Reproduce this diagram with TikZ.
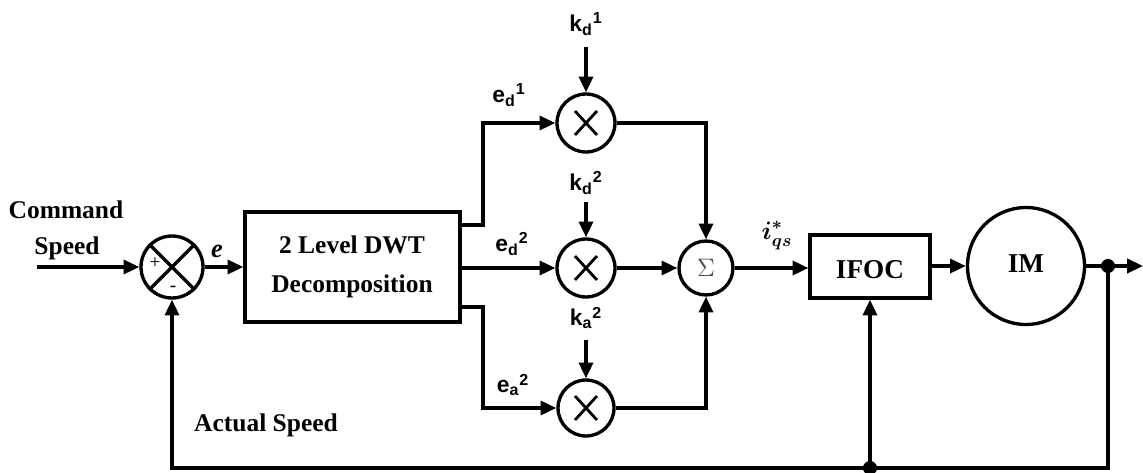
\documentclass[tikz,border=0pt]{standalone}
\usepackage{amsmath}
\usepackage{fontspec}
\setmainfont{Liberation Serif}
\newfontfamily\arialf{Liberation Sans}
\usetikzlibrary{arrows.meta,calc}
\begin{document}
\begin{tikzpicture}[x=0.02cm,y=-0.02cm,
  line width=1.9pt,
  arr/.style={-{Triangle[length=9pt,width=8pt]}},
  mult/.style={circle,draw,minimum size=1.16cm,inner sep=0pt},
  blk/.style={draw,inner sep=0pt},
  lbl/.style={font=\fontsize{14.5}{16}\selectfont\bfseries,inner sep=0pt},
  klbl/.style={font=\arialf\fontsize{13}{14}\selectfont\bfseries,inner sep=0pt},
  jdot/.style={circle,fill,inner sep=0pt,minimum size=8pt}]
\useasboundingbox (0,0) rectangle (1143,473);

% input and first summing junction
\coordinate (in) at (37,267);
\node[circle,draw,minimum size=1.24cm,inner sep=0pt] (s1) at (172,267) {};
\draw (s1.45) -- (s1.225) (s1.135) -- (s1.-45);
\node[font=\fontsize{11}{12}\selectfont,inner sep=0pt] (plus) at (155,263) {+};
\node[font=\fontsize{11}{12}\selectfont,inner sep=0pt] (minus) at (173,289) {-};
\node[lbl,anchor=base] (cmd) at (66,218) {Command};
\node[lbl,anchor=base] (spd) at (67,254) {Speed};
\draw[arr] (in) -- (s1);

% DWT block
\node[blk,minimum width=4.3cm,minimum height=2.2cm] (dwt) at (352.5,267) {};
\node[lbl,anchor=base] (dwt1) at (352,253) {2 Level DWT};
\node[lbl,anchor=base] (dwt2) at (352,292) {Decomposition};
\draw[arr] (s1) -- (dwt.west |- s1);
\node[font=\fontsize{15}{16}\selectfont\bfseries\itshape,anchor=base,inner sep=0pt] (e) at (217,257) {e};

% multipliers
\node[mult] (m1) at (586,123) {};
\node[mult] (m2) at (586,268) {};
\node[mult,minimum size=1.12cm] (m3) at (586,408) {};
\foreach \m in {m1,m2,m3}{
  \draw[line width=1.6pt] ($(\m.center)+(-11,-12)$) -- ($(\m.center)+(11,12)$)
        ($(\m.center)+(-11,12)$) -- ($(\m.center)+(11,-12)$);
}

% summation
\node[circle,draw,minimum size=1.08cm,inner sep=0pt,font=\fontsize{15}{16}\selectfont,text=black!70] (sig) at (706,268) {$\Sigma$};

% gain inputs
\node[klbl] (kd1) at (586,24) {k\textsubscript{d}\textsuperscript{1}};
\node[klbl] (kd2) at (586,183) {k\textsubscript{d}\textsuperscript{2}};
\node[klbl] (ka2) at (586,318) {k\textsubscript{a}\textsuperscript{2}};
\coordinate (kd1s) at (586,47);
\coordinate (kd2s) at (586,202);
\coordinate (ka2s) at (586,340);
\draw[arr] (kd1s) -- (m1);
\draw[arr] (kd2s) -- (m2);
\draw[arr] (ka2s) -- (m3);

% branch signals
\node[klbl] (ed1) at (509,95) {e\textsubscript{d}\textsuperscript{1}};
\node[klbl] (ed2) at (512,244) {e\textsubscript{d}\textsuperscript{2}};
\node[klbl] (ea2) at (513,385) {e\textsubscript{a}\textsuperscript{2}};
\coordinate (b1) at (460,225);
\coordinate (b3) at (460,307);
\draw[arr] (b1) -- (483,225) |- (m1);
\draw[arr] (dwt.east |- m2) -- (m2);
\draw[arr] (b3) -- (483,307) |- (m3);

% to summation
\draw[arr] (m1) -| (sig);
\draw[arr] (m2) -- (sig);
\draw[arr] (m3) -| (sig);

% IFOC and IM
\node[blk,minimum width=2.4cm,minimum height=1.26cm] (ifoc) at (870,266.5) {};
\node[lbl,anchor=base,font=\fontsize{15.5}{16}\selectfont\bfseries] (ifoct) at (870,278) {IFOC};
\node[circle,draw,minimum size=2.34cm,inner sep=0pt] (im) at (1026,266) {};
\node[lbl,anchor=base,font=\fontsize{15.5}{16}\selectfont\bfseries] (imt) at (1026,272) {IM};
\draw[arr] (sig) -- (ifoc.west |- sig);
\node[font=\fontsize{14}{16}\selectfont\boldmath,inner sep=0pt] (iqs) at (777,236) {$i^{*}_{qs}$};
\draw[arr] (ifoc.east |- im) -- (im);

% output and feedback
\node[jdot] (d1) at (1108,266) {};
\coordinate (out) at (1143,266);
\draw[arr] (im) -- (out);
\node[jdot] (d2) at (870,468) {};
\coordinate (fbr) at (1108,468);
\coordinate (fbl) at (172,468);
\draw (d1.center) -- (fbr) -- (d2.center);
\draw[arr] (d2.center) -- (fbl) -- (s1);
\draw[arr] (d2.center) -- (ifoc);
\node[lbl,anchor=base] (act) at (266,431) {Actual Speed};
\end{tikzpicture}
\end{document}
